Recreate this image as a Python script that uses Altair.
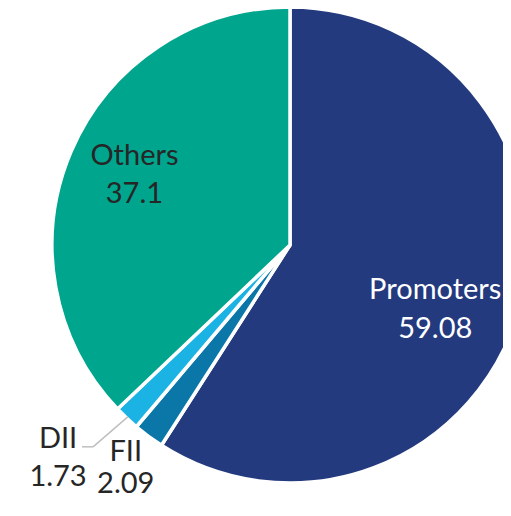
import altair as alt
import pandas as pd

categories = ["Promoters", "FII", "DII", "Others"]
values = [59.08, 2.09, 1.73, 37.1]
value_labels = ["59.08", "2.09", "1.73", "37.1"]
colors = ["#243A7E", "#0B77A8", "#1BB3E3", "#00A58E"]

df = pd.DataFrame({
    "category": categories,
    "value": values,
    "idx": list(range(len(categories))),
    "label": [c + "\n" + v for c, v in zip(categories, value_labels)],
})

CX, CY, R = 282, 237, 238
FONT = "Lato"

base = alt.Chart(df)

pie = base.mark_arc(
    x=CX, y=CY, radius=R, stroke="white", strokeWidth=3.5
).encode(
    theta=alt.Theta("value:Q", stack=True),
    order=alt.Order("idx:Q"),
    color=alt.Color(
        "category:N",
        scale=alt.Scale(domain=categories, range=colors),
        legend=None,
    ),
)

mids = base.transform_window(
    cum="sum(value)", sort=[alt.SortField("idx")], frame=[None, 0]
).transform_joinaggregate(
    total="sum(value)"
).transform_calculate(
    mid="(datum.cum - datum.value / 2) / datum.total * 2 * PI"
)


def label(cat, radius, offset, color, dx=0, dy=-18, lh=38.5):
    return mids.transform_filter(alt.datum.category == cat).mark_text(
        x=CX, y=CY, radius=radius, thetaOffset=offset, dx=dx, dy=dy,
        font=FONT, fontSize=29, lineBreak="\n", lineHeight=lh,
        align="center", baseline="middle", color=color,
    ).encode(
        theta=alt.Theta("mid:Q", scale=None, stack=False),
        text="label:N",
    )


lab_p = label("Promoters", 163, 0.113, "white", dx=-5)
lab_o = label("Others", 171, 0.023, "#262626")
lab_d = label("DII", 314, 0.075, "#262626")
lab_f = label("FII", 290, -0.034, "#262626", dy=-32, lh=32)

leader = mids.transform_filter(alt.datum.category == "DII").transform_calculate(
    x1=f"{CX} + 236 * sin(datum.mid)",
    y1=f"{CY} - 236 * cos(datum.mid)",
    x2=f"{CX} + 282 * sin(datum.mid + 0.017)",
    y2=f"{CY} - 282 * cos(datum.mid + 0.017)",
)
leader1 = leader.mark_rule(color="#BFBFBF", strokeWidth=1.5).encode(
    x=alt.X("x1:Q", scale=None), y=alt.Y("y1:Q", scale=None),
    x2="x2:Q", y2="y2:Q",
)
leader2 = leader.transform_calculate(x3="datum.x2 - 11").mark_rule(
    color="#BFBFBF", strokeWidth=1.5
).encode(
    x=alt.X("x2:Q", scale=None), y=alt.Y("y2:Q", scale=None),
    x2="x3:Q",
)

chart = alt.layer(pie, leader1, leader2, lab_p, lab_o, lab_d, lab_f).properties(
    width=495, height=492, autosize=alt.AutoSizeParams(type="none"), padding=0
).configure_view(stroke=None)

chart.save("out.html", embed_options={"renderer": "svg", "actions": False})
